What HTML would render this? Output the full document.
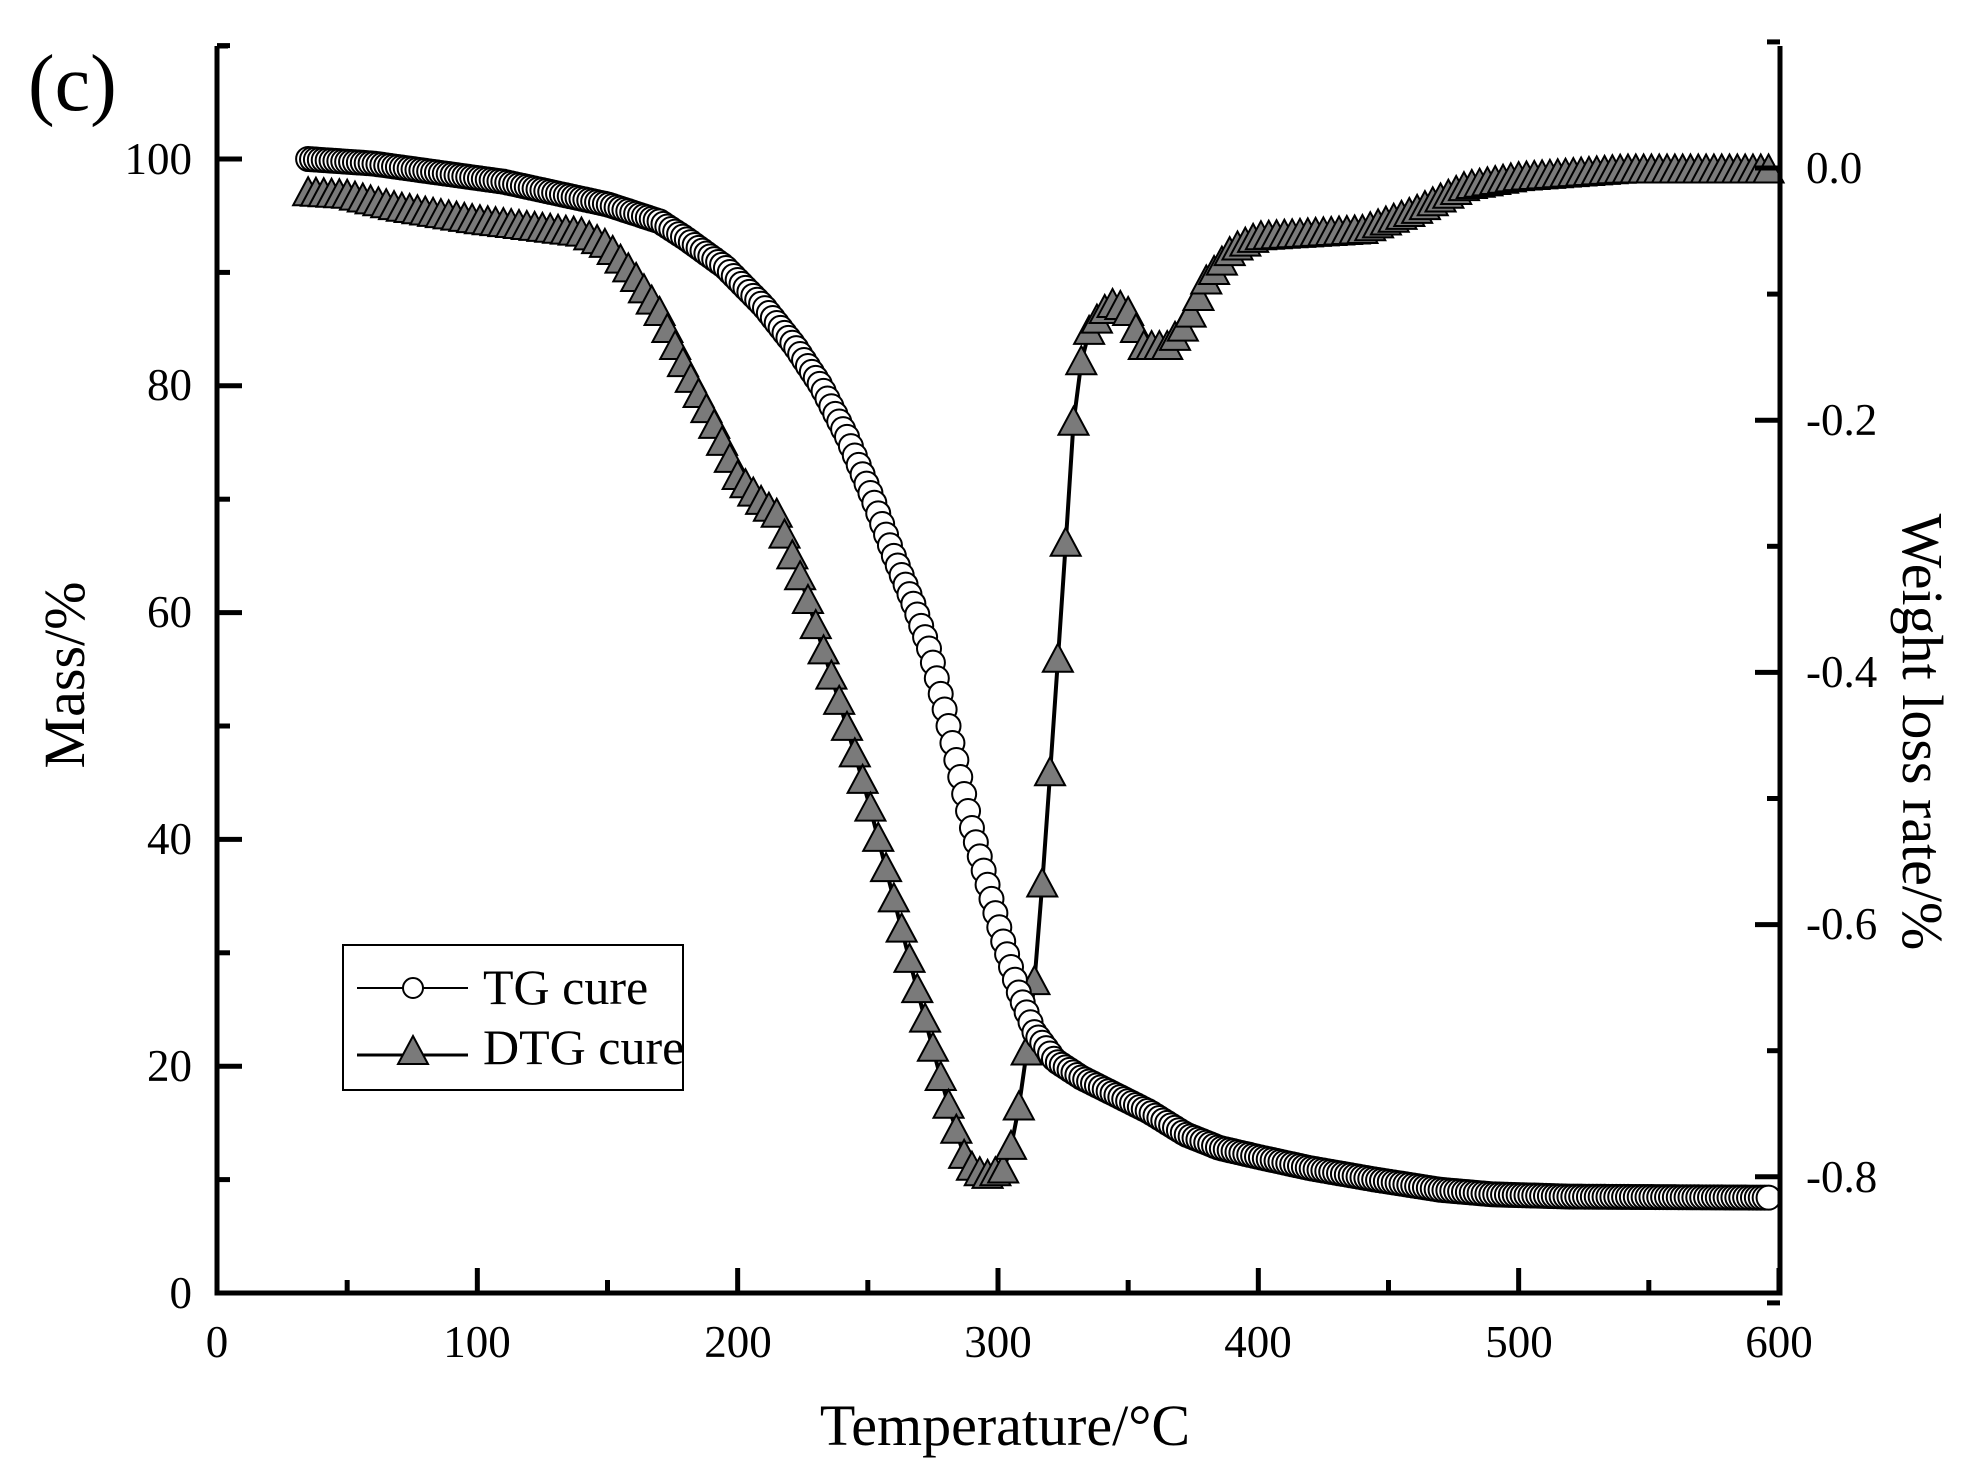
<!DOCTYPE html>
<html><head><meta charset="utf-8"><style>
html,body{margin:0;padding:0;background:#fff;}
svg{display:block;font-family:"Liberation Serif",serif;}
</style></head><body>
<svg id="s" width="1964" height="1469" viewBox="0 0 1964 1469" xmlns="http://www.w3.org/2000/svg">
<rect width="1964" height="1469" fill="#fff"/>
<g id="data"></g>
<g stroke="#000" stroke-width="5" fill="none" id="axes">
<polyline points="217,46 217,1293 1780,1293 1780,46"/>
<line x1="217" y1="46" x2="228" y2="46"/>
</g>
<g id="ticks" stroke="#000" stroke-width="5"></g>
<g font-size="45" fill="#000">
<text x="28" y="110" font-size="80">(c)</text>
<g text-anchor="end" id="ly">
<text x="192" y="1308">0</text><text x="192" y="1081">20</text><text x="192" y="854">40</text><text x="192" y="627">60</text><text x="192" y="400">80</text><text x="192" y="174">100</text>
</g>
<g text-anchor="middle">
<text x="217" y="1357">0</text><text x="477" y="1357">100</text><text x="738" y="1357">200</text><text x="998" y="1357">300</text><text x="1258" y="1357">400</text><text x="1519" y="1357">500</text><text x="1779" y="1357">600</text>
</g>
<g text-anchor="start">
<text x="1806" y="183">0.0</text><text x="1806" y="435">-0.2</text><text x="1806" y="687">-0.4</text><text x="1806" y="939">-0.6</text><text x="1806" y="1192">-0.8</text>
</g>
<text x="1005" y="1445" font-size="58" text-anchor="middle">Temperature/°C</text>
<text transform="translate(84,675) rotate(-90)" font-size="58" text-anchor="middle">Mass/%</text>
<text transform="translate(1903,732) rotate(90)" font-size="58" text-anchor="middle">Weight loss rate/%</text>
</g>
<g>
<rect x="343" y="945" width="340" height="145" fill="#fff" stroke="#000" stroke-width="2"/>
<line x1="357" y1="988" x2="468" y2="988" stroke="#000" stroke-width="2"/>
<circle cx="413" cy="988" r="10" fill="#fff" stroke="#000" stroke-width="2"/>
<line x1="357" y1="1055" x2="468" y2="1055" stroke="#000" stroke-width="3"/>
<polygon points="413,1036 428,1064 398,1064" fill="#7a7a7a" stroke="#000" stroke-width="2"/>
<text x="483" y="1004" font-size="50">TG cure</text>
<text x="483" y="1064" font-size="50">DTG cure</text>
</g>
</svg>
<script>
var NS="http://www.w3.org/2000/svg";
function X(t){return 217+t*2.6033;}
function YM(m){return 1293-m*11.34;}
function YR(r){return 168-r*1261;}
var tk=document.getElementById('ticks');
function ln(a,b,c,d){var l=document.createElementNS(NS,'line');l.setAttribute('x1',a);l.setAttribute('y1',b);l.setAttribute('x2',c);l.setAttribute('y2',d);tk.appendChild(l);}
for(var t=0;t<=600;t+=50){var x=X(t);ln(x,1293,x,1293-(t%100==0?25:13));}
for(var m=0;m<=110;m+=10){var y=YM(m);ln(217,y,217+(m%20==0?25:13),y);}
for(var i=-9;i<=1;i++){var y=YR(i/10);ln(1780,y,1780-(i%2==0?25:13),y);}
function interp(k,t){for(var i=0;i<k.length-1;i++){if(t<=k[i+1][0]){var a=k[i],b=k[i+1];return a[1]+(b[1]-a[1])*(t-a[0])/(b[0]-a[0]);}}return k[k.length-1][1];}
var TG=[[35,100],[60,99.6],[110,98],[150,96],[170,94.5],[180,93],[195,90.5],[210,87],[222,83.5],[232,80],[242,75.5],[252,70],[260,65],[268,60.5],[274,56.5],[280,51],[285,46],[290,41],[296,36],[302,31],[308,26.5],[314,23],[322,20.5],[332,19],[345,17.5],[358,16],[372,14],[385,12.8],[400,12],[420,11],[445,10],[470,9.1],[490,8.7],[520,8.5],[600,8.4]];
var DT=[[35,-0.02],[50,-0.022],[70,-0.032],[100,-0.042],[140,-0.052],[150,-0.062],[160,-0.085],[170,-0.115],[180,-0.16],[190,-0.2],[200,-0.245],[210,-0.267],[215,-0.275],[225,-0.33],[240,-0.43],[250,-0.5],[260,-0.58],[270,-0.66],[280,-0.737],[288,-0.79],[295,-0.80],[302,-0.795],[306,-0.77],[310,-0.72],[315,-0.627],[320,-0.48],[325,-0.33],[330,-0.17],[335,-0.13],[340,-0.115],[345,-0.107],[350,-0.115],[356,-0.142],[365,-0.142],[372,-0.125],[380,-0.09],[390,-0.065],[400,-0.055],[440,-0.05],[460,-0.035],[480,-0.015],[500,-0.008],[540,-0.002],[600,-0.002]];
var g=document.getElementById('data');
var pts=[];for(var t=35;t<=598;t+=3){pts.push(X(t).toFixed(1)+','+YR(interp(DT,t)).toFixed(1));}
var pl=document.createElementNS(NS,'polyline');pl.setAttribute('points',pts.join(' '));pl.setAttribute('fill','none');pl.setAttribute('stroke','#000');pl.setAttribute('stroke-width','4');g.appendChild(pl);
for(var t=35;t<=598;t+=3){var x=X(t),y=YR(interp(DT,t));var p=document.createElementNS(NS,'polygon');p.setAttribute('points',x+','+(y-16)+' '+(x+15)+','+(y+12)+' '+(x-15)+','+(y+12));p.setAttribute('fill','#7a7a7a');p.setAttribute('stroke','#000');p.setAttribute('stroke-width','2');g.appendChild(p);}
for(var t=35;t<=597;t+=1.5){var c=document.createElementNS(NS,'circle');c.setAttribute('cx',X(t));c.setAttribute('cy',YM(interp(TG,t)));c.setAttribute('r','12');c.setAttribute('fill','#fff');c.setAttribute('stroke','#000');c.setAttribute('stroke-width','2');g.appendChild(c);}
</script>
</body></html>
